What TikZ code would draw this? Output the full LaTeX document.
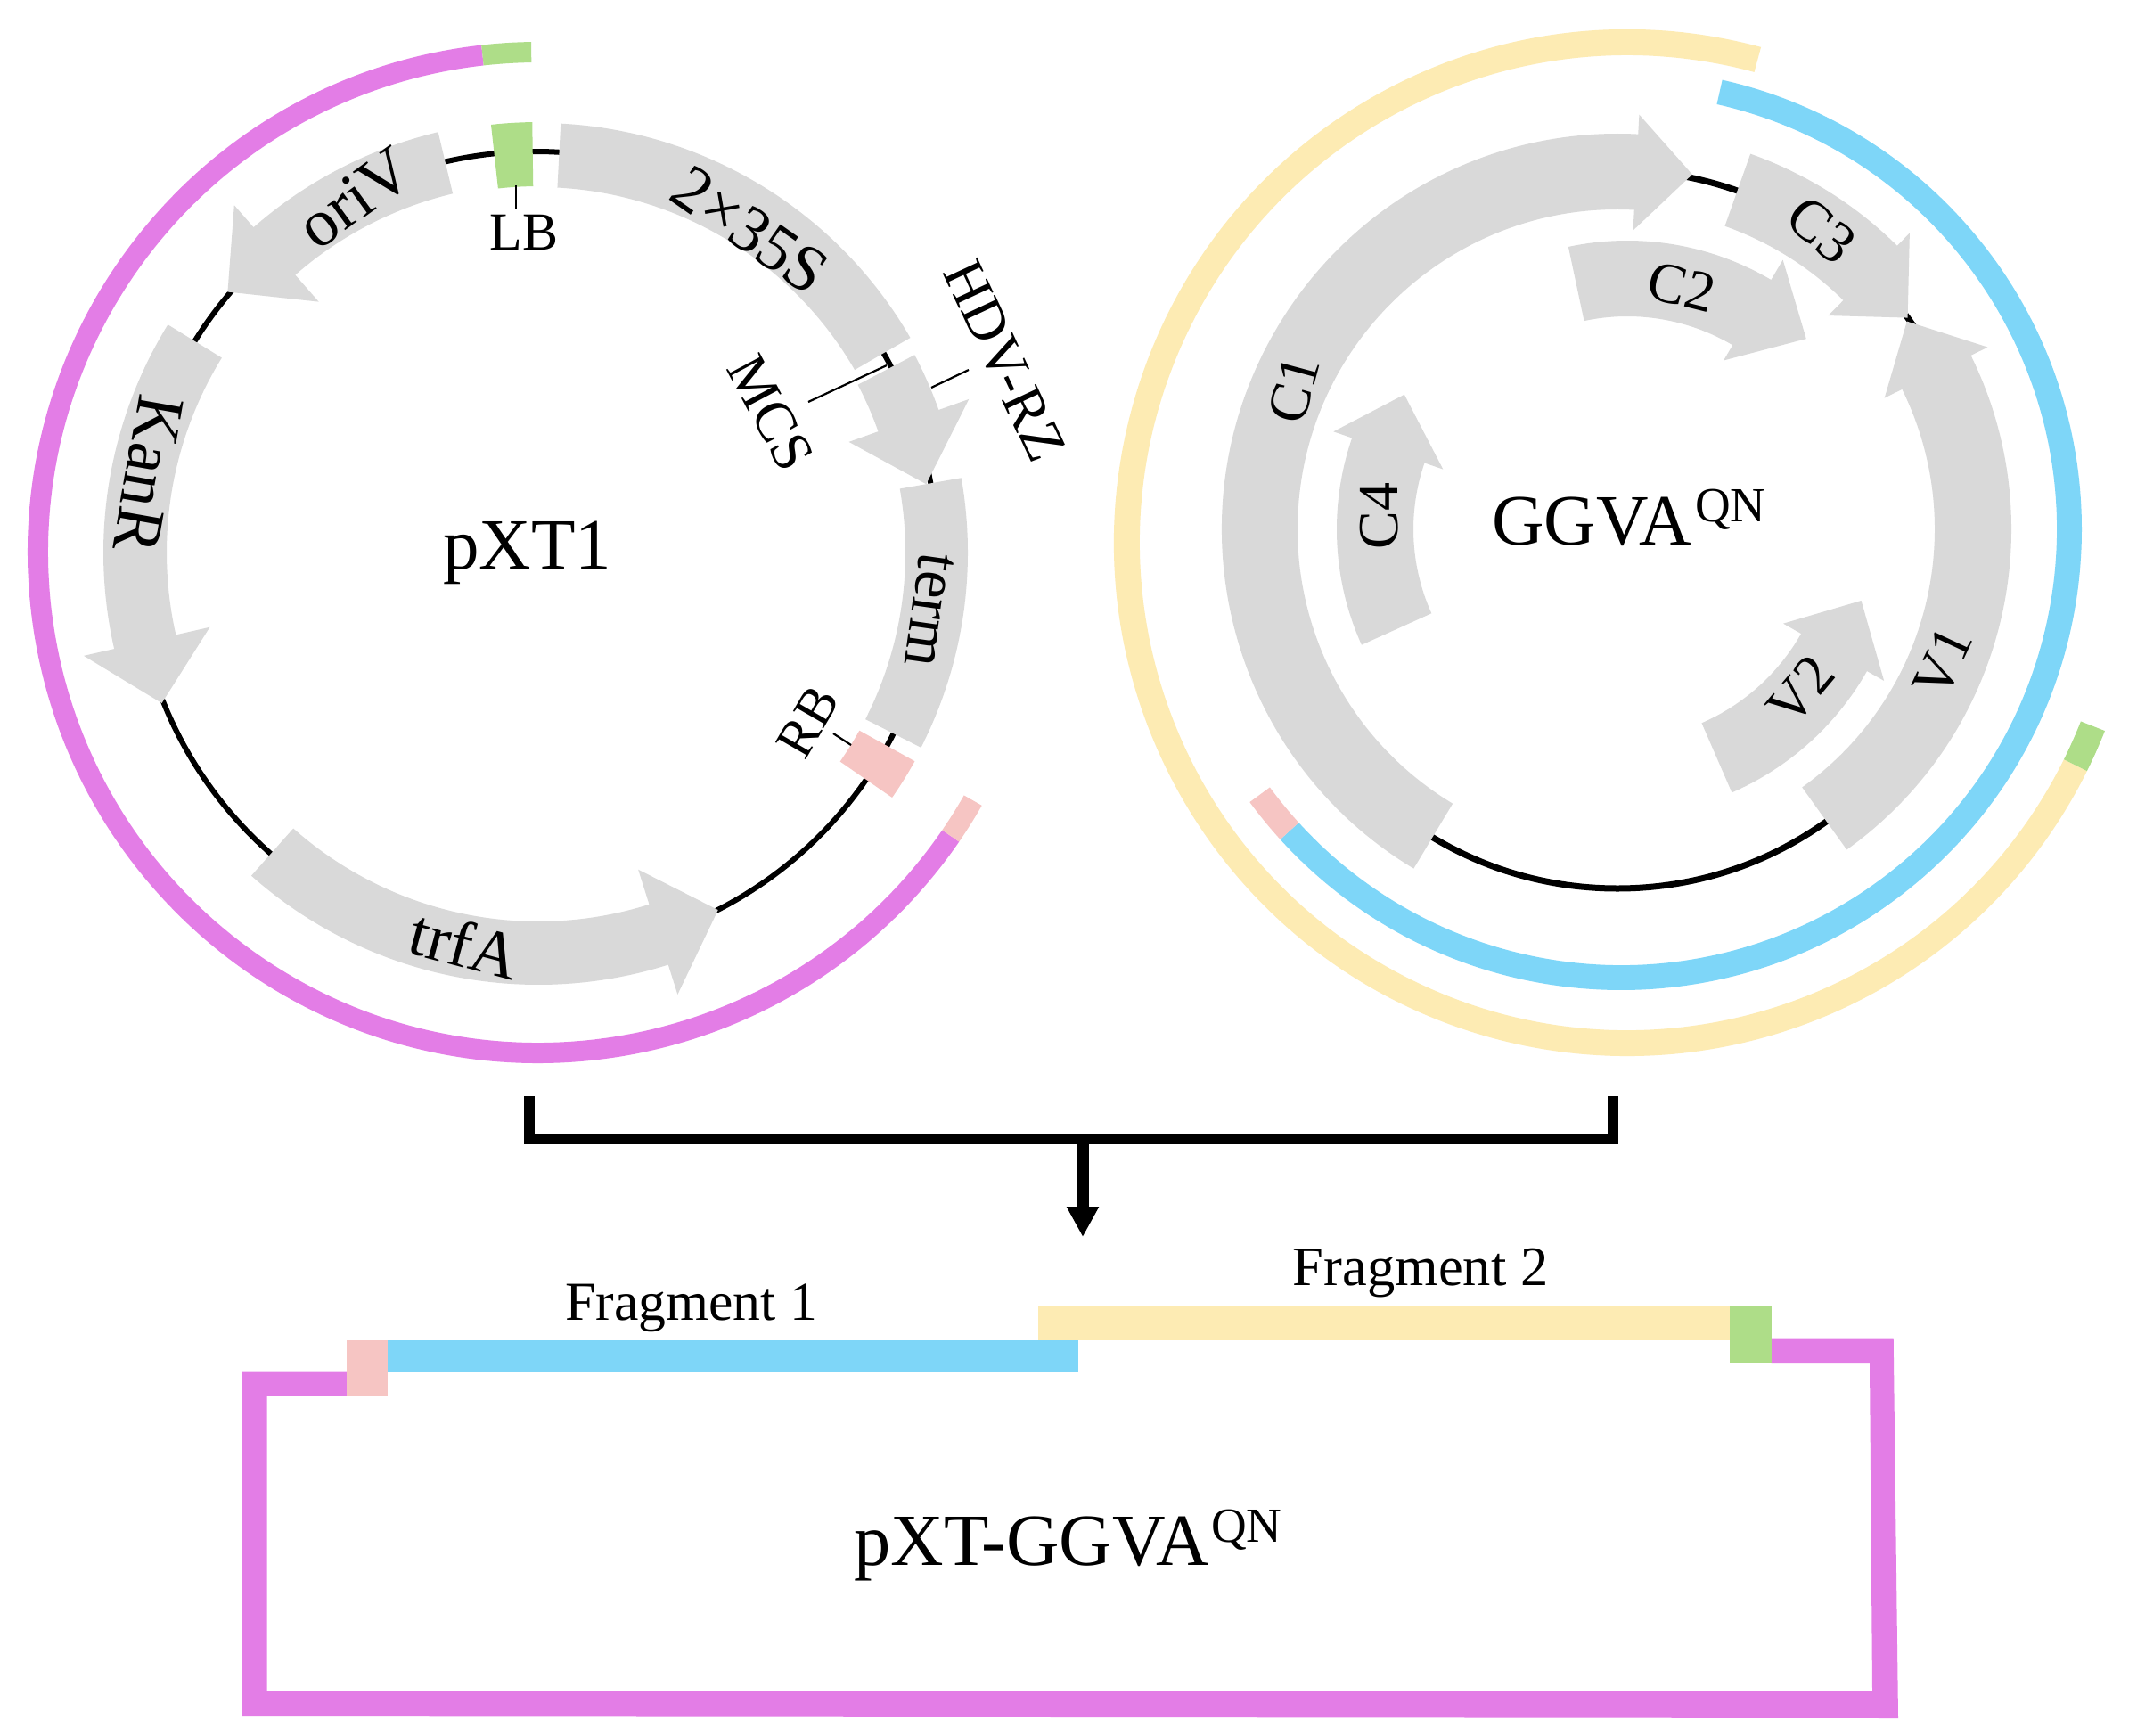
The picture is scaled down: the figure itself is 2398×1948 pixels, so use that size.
\documentclass[tikz,border=0pt]{standalone}
\usepackage{fontspec}
\setmainfont{Liberation Serif}
\usetikzlibrary{arrows.meta}
\definecolor{cmag}{RGB}{227,125,230}
\definecolor{cgrn}{RGB}{174,221,136}
\definecolor{cpnk}{RGB}{246,197,195}
\definecolor{cblu}{RGB}{126,214,248}
\definecolor{cyel}{RGB}{253,235,179}
\definecolor{cgry}{RGB}{217,217,217}
% gene arrow: rin rout a0 neck wingIn wingOut tipAngle tipR
\newcommand{\genearrow}[8]{\fill[cgry] (#3:#2pt) arc[start angle=#3,end angle=#4,radius=#2pt] -- (#4:#6pt) -- (#7:#8pt) -- (#4:#5pt) -- (#4:#1pt) arc[start angle=#4,end angle=#3,radius=#1pt] -- cycle;}
% ring segment: colour rin rout a0 a1
\newcommand{\ringseg}[5]{\fill[#1] (#4:#3pt) arc[start angle=#4,end angle=#5,radius=#3pt] -- (#5:#2pt) arc[start angle=#5,end angle=#4,radius=#2pt] -- cycle;}
\tikzset{
  txt/.style={inner sep=0pt,font=\fontsize{#1}{#1}\selectfont},
  tick/.style={line width=2.2pt,black},
  bb/.style={line width=12pt,black,line join=miter},
}
\begin{document}
\begin{tikzpicture}[x=1pt,y=-1pt]
\useasboundingbox (0,0) rectangle (2398,1948);
\fill[white] (0,0) rectangle (2398,1948);
% ---------- left plasmid
\begin{scope}[shift={(601,620)}]
\draw[line width=6pt,black] (0,0) circle[radius=450pt];
\end{scope}
\begin{scope}[shift={(604,620)}]
\ringseg{cmag}{550}{573}{96.4}{325.5}
\ringseg{cgrn}{550}{573}{90.8}{96.4}
\ringseg{cpnk}{550}{573}{325.5}{330.3}
\ringseg{cgrn}{411}{483}{90.8}{96.3}
\ringseg{cpnk}{412}{483}{-34.7}{-29}
\ringseg{cgry}{410}{482}{30}{87}
\ringseg{cgry}{412}{482}{-27}{10}
\genearrow{414}{485}{103.4}{131.2}{374}{518}{140}{455}
\genearrow{417}{488}{148.4}{192.8}{378}{523}{201.8}{455}
\genearrow{414}{485}{228.4}{287.5}{373}{520}{296.7}{449}
\genearrow{405}{477}{27.7}{19.6}{370}{513}{10}{442}
\end{scope}
\node[txt=81,anchor=base west] (pxt) at (497,638) {pXT1};
\node[txt=74,rotate=-35] (s35) at (842,258) {2×35S};
\node[txt=75,rotate=36] (ori) at (398,222) {oriV};
\node[txt=76,rotate=-100] (kan) at (166,532) {KanR};
\node[txt=70,rotate=-98] (term) at (1043,685) {term};
\node[txt=74,rotate=-15] (trf) at (522,1060) {trfA};
\node[txt=60] (lb) at (588,261) {LB};
\node[txt=64,rotate=-62] (mcs) at (865,463) {MCS};
\node[txt=65,rotate=-65] (hdv) at (1127,405) {HDV-RZ};
\node[txt=60,rotate=60] (rb) at (907,810) {RB};
\coordinate (lbA) at (579,208); \coordinate (lbB) at (579,234);
\coordinate (mcsA) at (995,410); \coordinate (mcsB) at (907,451);
\coordinate (hdvA) at (1045,435); \coordinate (hdvB) at (1087,415);
\coordinate (rbA) at (955,836); \coordinate (rbB) at (935,823);
\draw[tick] (lbA) -- (lbB);
\draw[tick] (mcsA) -- (mcsB);
\draw[tick] (hdvA) -- (hdvB);
\draw[tick] (rbA) -- (rbB);
% ---------- right plasmid
\begin{scope}[shift={(1826,609)}]
\ringseg{cyel}{547}{576}{74.9}{333.6}
\ringseg{cgrn}{547}{576}{333.6}{338.5}
\end{scope}
\begin{scope}[shift={(1819,594)}]
\ringseg{cblu}{489}{517}{222.3}{437.3}
\ringseg{cpnk}{489}{517}{216.3}{222.3}
\end{scope}
\begin{scope}[shift={(1815,594)}]
\draw[line width=7pt,black] (0,0) circle[radius=403pt];
\genearrow{359}{444}{239}{87}{336}{466}{78.1}{407}
\genearrow{361}{447}{70.5}{45.4}{337}{467}{36.1}{403}
\genearrow{356}{442}{-54.4}{26.2}{334}{463}{35.7}{400}
\genearrow{237}{322}{-66.5}{-29.6}{214}{344}{-16.3}{285}
\genearrow{229}{315}{204.3}{161}{207}{337}{147.7}{283}
\end{scope}
\begin{scope}[shift={(1826,588)}]
\genearrow{233}{318}{102}{59.5}{213}{344}{46}{289}
\end{scope}
\node[txt=81,anchor=base west] (gg) at (1674,611) {GGVA};
\node[txt=55,anchor=base west] (ggq) at (1902,585) {QN};
\node[txt=64,rotate=75] (c1) at (1452,437) {C1};
\node[txt=64,rotate=-14] (c2) at (1887,322) {C2};
\node[txt=66,rotate=-40] (c3) at (2044,258) {C3};
\node[txt=64,rotate=90] (c4) at (1548,579) {C4};
\node[txt=64,rotate=65] (v1) at (2180,743) {V1};
\node[txt=64,rotate=50] (v2) at (2021,775) {V2};
% ---------- bracket
\coordinate (brL) at (594,1230);
\coordinate (brR) at (1810,1230);
\coordinate (brM) at (1215,1278);
\coordinate (brT) at (1215,1388);
\draw[bb] (brL) |- (brM) -| (brR);
\draw[line width=14pt,black,-{Triangle[width=34pt,length=34pt]}] (brM) -- (brT);
% ---------- linear construct
\fill[cmag] (389,1538.7) -- (271.4,1538.7) -- (271.4,1926) -- (2130,1928) -- (2124.7,1501.5) -- (1987.6,1501.5) -- (1987.6,1530) -- (2098,1530) -- (2101,1897) -- (299.7,1897) -- (299.7,1566.4) -- (389,1566.4) -- cycle;
\fill[cyel] (1164.5,1464.8) rectangle (1941,1504.4);
\fill[cgrn] (1941,1464.8) rectangle (1987.6,1530);
\fill[cblu] (435,1504.4) rectangle (1210,1539);
\fill[cpnk] (389,1504.4) rectangle (435,1567.4);
\node[txt=61.7,anchor=base west] (f1) at (634,1481.5) {Fragment 1};
\node[txt=62.5,anchor=base west] (f2) at (1450.6,1442) {Fragment 2};
\node[txt=82.5,anchor=base west] (pg) at (958,1756) {pXT-GGVA};
\node[txt=55,anchor=base west] (pgq) at (1359,1730) {QN};
\end{tikzpicture}
\end{document}
